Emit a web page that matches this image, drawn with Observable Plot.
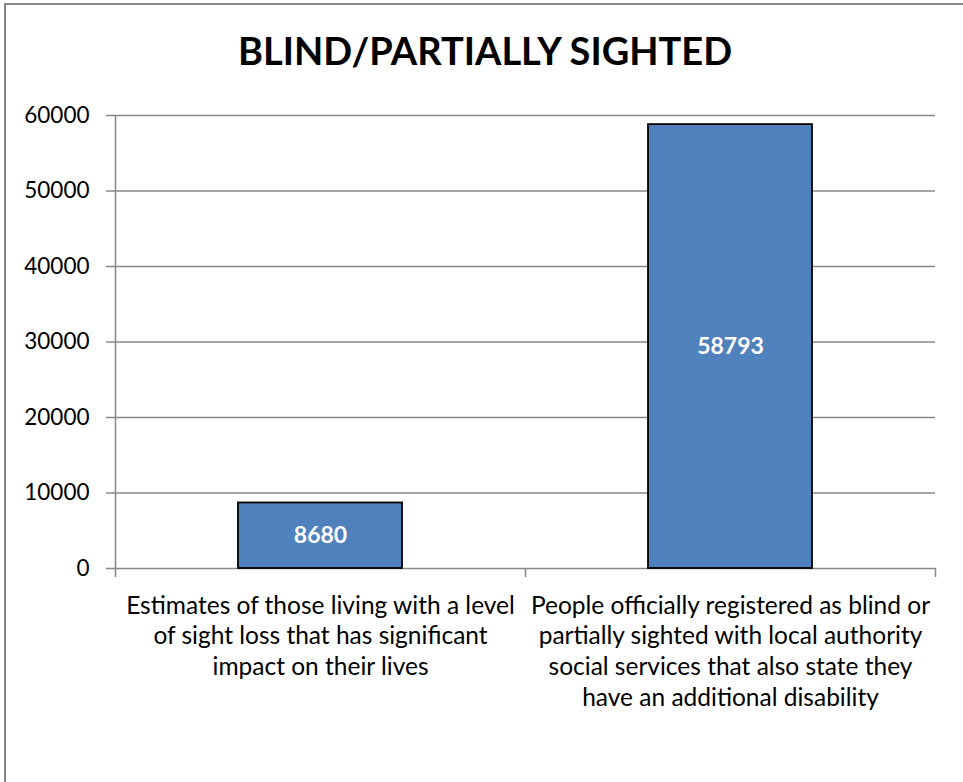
<!DOCTYPE html>
<html>
<head>
<meta charset="utf-8">
<script src="https://cdn.jsdelivr.net/npm/d3@7"></script>
<script src="https://cdn.jsdelivr.net/npm/@observablehq/plot@0.6"></script>
<style>
  html, body { margin: 0; padding: 0; background: #fff; }
  body { width: 963px; height: 782px; overflow: hidden; position: relative; font-family: Lato, "Open Sans", sans-serif; }
  #frame { position: absolute; left: 4px; top: 3px; width: 1000px; height: 1000px; border-left: 2px solid #878787; border-top: 2px solid #878787; box-sizing: border-box; }
  #title { position: absolute; left: 4px; width: 962px; top: 31px; text-align: center; font-weight: 700; font-size: 38px; line-height: 1; color: #000; }
  #chart { position: absolute; left: 0; top: 95px; }
</style>
</head>
<body>
<div id="frame"></div>
<div id="title">BLIND/PARTIALLY SIGHTED</div>
<div id="chart"></div>
<script>
const title = "BLIND/PARTIALLY SIGHTED";
const categories = [
  "Estimates of those living with a level of sight loss that has significant impact on their lives",
  "People officially registered as blind or partially sighted with local authority social services that also state they have an additional disability"
];
const categoryLines = [
  "Estimates of those living with a level\nof sight loss that has significant\nimpact on their lives",
  "People officially registered as blind or\npartially sighted with local authority\nsocial services that also state they\nhave an additional disability"
];
const values = [8680, 58793];
const yTicks = [0, 10000, 20000, 30000, 40000, 50000, 60000];

const data = categories.map((c, i) => ({i, category: c, label: categoryLines[i], value: values[i]}));

const grey = "#878787";
const chart = Plot.plot({
  width: 963,
  height: 687,
  marginLeft: 115,
  marginRight: 28,
  marginTop: 20,
  marginBottom: 214,
  style: {fontFamily: "Lato, 'Open Sans', sans-serif", color: "#000", background: "transparent"},
  x: {domain: [0, categories.length], axis: null},
  y: {domain: [0, 60000], axis: null},
  marks: [
    Plot.gridY(yTicks, {stroke: grey, strokeOpacity: 1, strokeWidth: 1.5}),
    Plot.ruleX([0], {stroke: grey, strokeWidth: 1.5}),
    Plot.axisY({ticks: yTicks, tickSize: 9, tickPadding: 17, stroke: grey, strokeWidth: 1.5, fontSize: 22.5, tickFormat: d => String(d), label: null}),
    Plot.axisX({ticks: d3.range(categories.length + 1), tickSize: 9, stroke: grey, strokeWidth: 1.5, tickFormat: () => "", label: null}),
    Plot.axisX({ticks: data.map(d => d.i + 0.5), tickSize: 0, tickPadding: 23, fontSize: 24.5, lineHeight: 1.265, tickFormat: t => categoryLines[Math.floor(t)], label: null}),
    Plot.rectY(data, {x1: "i", x2: d => d.i + 1, y: "value", insetLeft: 123, insetRight: 123, fill: "#4F81BD", stroke: "#000", strokeWidth: 1.8}),
    Plot.text(data, {x: d => d.i + 0.5, y: d => d.value / 2, text: d => String(d.value), fill: "#fff", fontWeight: "bold", fontSize: 23})
  ]
});
document.getElementById("chart").appendChild(chart);
</script>
</body>
</html>
